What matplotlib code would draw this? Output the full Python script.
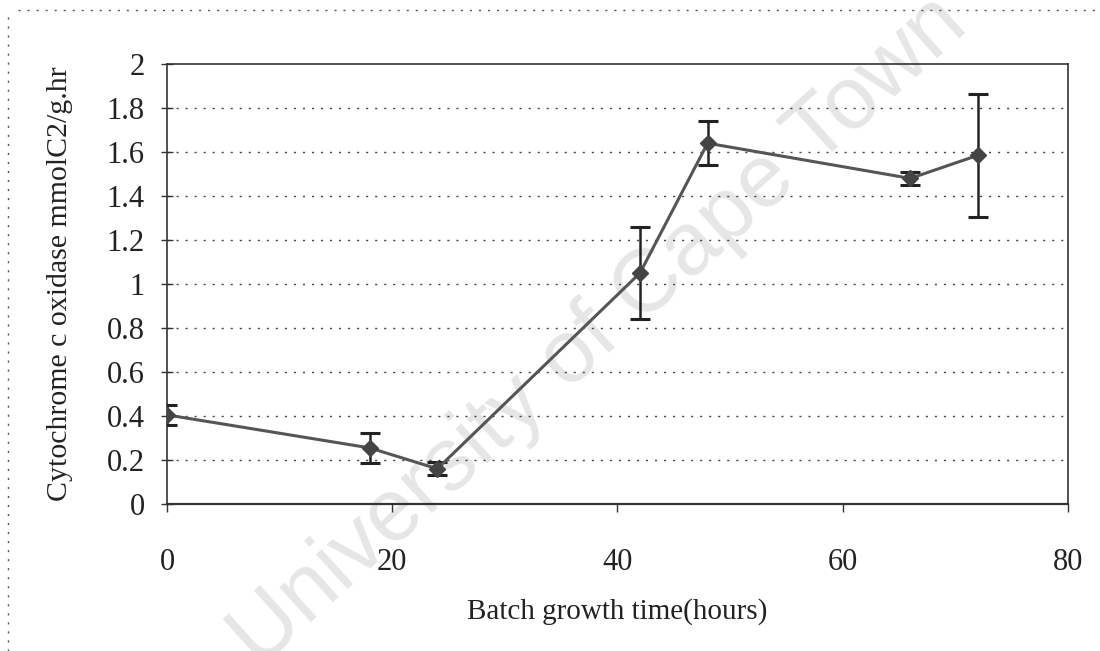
import numpy as np
import matplotlib.pyplot as plt
from matplotlib.lines import Line2D

# cytochrome c oxidase activity over batch growth
hours = [0, 18, 24, 42, 48, 66, 72]
activity = [0.405, 0.255, 0.16, 1.05, 1.64, 1.48, 1.585]
activity_err = [0.045, 0.068, 0.03, 0.21, 0.10, 0.03, 0.28]

y_ticks = [0, 0.2, 0.4, 0.6, 0.8, 1.0, 1.2, 1.4, 1.6, 1.8, 2.0]
y_tick_labels = ['0', '0.2', '0.4', '0.6', '0.8', '1', '1.2', '1.4', '1.6', '1.8', '2']
x_ticks = [0, 20, 40, 60, 80]

plt.rcParams['font.family'] = ['Liberation Serif', 'DejaVu Serif']

fig = plt.figure(figsize=(11, 6.51), dpi=100)
ax = fig.add_axes([0.1518, 0.2258, 0.8191, 0.6759])
ax.set_zorder(1)
ax.patch.set_visible(False)

# watermark behind the plot
fig.text(0.545, 0.49, 'University of Cape Town', family='Liberation Sans',
         fontsize=64, color='#e6e6e6', rotation=42, ha='center', va='center',
         zorder=0)

# dotted page frame (top and left edge)
fig.add_artist(Line2D([0.016, 1.0], [0.985, 0.985], color='#555555', lw=1.0,
                      linestyle=(0, (1.5, 5))))
fig.add_artist(Line2D([0.007, 0.007], [0.0, 0.982], color='#555555', lw=1.0,
                      linestyle=(0, (1.5, 5))))

# grid
for yv in y_ticks[1:-1]:
    ax.axhline(yv, color='#444444', lw=1.0, linestyle=(0, (1.5, 5)), zorder=1)

ax.errorbar(hours, activity, yerr=activity_err, fmt='none', ecolor='#222222',
            elinewidth=1.8, capsize=7, capthick=2.2, zorder=3)
ax.plot(hours, activity, color='#555555', lw=2.2, marker='D', markersize=8,
        markerfacecolor='#444444', markeredgecolor='#444444', zorder=4)

ax.set_xlim(0, 80)
ax.set_ylim(0, 2)
ax.set_xticks(x_ticks)
ax.set_yticks(y_ticks)
ax.set_yticklabels(y_tick_labels)

for side in ['top', 'bottom', 'left', 'right']:
    ax.spines[side].set_color('#333333')
    ax.spines[side].set_linewidth(1.2)
ax.spines['bottom'].set_linewidth(1.6)

ax.tick_params(axis='x', direction='out', length=6, width=1, colors='#333333',
               labelcolor='#222222', labelsize=22, pad=26)
ax.tick_params(axis='y', direction='inout', length=8, width=1, colors='#333333',
               labelcolor='#222222', labelsize=22, pad=12)

ax.set_xlabel('Batch growth time(hours)', fontsize=21, color='#222222', labelpad=15)
ax.set_ylabel('Cytochrome c oxidase mmolC2/g.hr', fontsize=21.5, color='#222222',
              labelpad=24)

plt.savefig('out.png', dpi=100)
